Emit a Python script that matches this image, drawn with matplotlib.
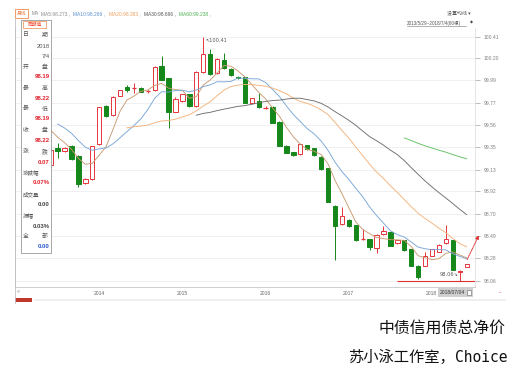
import numpy as np
import pandas as pd
import matplotlib
matplotlib.use('Agg')
import matplotlib.pyplot as plt
from matplotlib.patches import Rectangle

# ---------------- data (monthly candles, Jul-2013 .. Jul-2018) ----------------
start_month = '2013-07'
opens = [99.174, 99.341, 99.309, 99.357, 99.261, 99.004, 99.036, 99.374, 99.742, 99.656,
         99.839, 99.925, 99.910, 99.919, 99.885, 99.896, 100.130, 100.009, 99.687, 99.791,
         99.855, 99.742, 100.067, 100.243, 100.057, 100.185, 100.099, 100.020, 100.019, 99.768,
         99.791, 99.720, 99.736, 99.591, 99.360, 99.296, 99.277, 99.367, 99.335, 99.254,
         99.142, 98.782, 98.606, 98.645, 98.596, 98.455, 98.462, 98.372, 98.507, 98.526,
         98.420, 98.452, 98.365, 98.204, 98.204, 98.298, 98.339, 98.420, 98.452, 98.140,
         98.190]
closes = [99.319, 99.312, 99.335, 99.232, 98.991, 99.036, 99.357, 99.730, 99.646, 99.829,
          99.896, 99.901, 99.915, 99.880, 99.890, 100.121, 99.993, 99.687, 99.807, 99.855,
          99.742, 100.073, 100.243, 100.048, 100.192, 100.105, 100.041, 100.010, 99.774, 99.816,
          99.730, 99.722, 99.582, 99.360, 99.293, 99.270, 99.374, 99.325, 99.270, 99.136,
          98.821, 98.587, 98.683, 98.587, 98.452, 98.460, 98.382, 98.500, 98.536, 98.397,
          98.452, 98.356, 98.204, 98.093, 98.298, 98.362, 98.404, 98.459, 98.163, 98.150,
          98.220]
highs = [99.330, 99.386, 99.345, 99.370, 99.270, 99.045, 99.360, 99.735, 99.750, 99.835,
         99.900, 99.945, 99.960, 99.925, 99.895, 100.125, 100.224, 100.015, 99.832, 99.860,
         99.860, 100.080, 100.410, 100.288, 100.200, 100.250, 100.105, 100.030, 100.025, 99.820,
         99.865, 99.740, 99.740, 99.595, 99.365, 99.300, 99.380, 99.370, 99.340, 99.260,
         99.145, 98.790, 98.773, 98.650, 98.600, 98.555, 98.465, 98.505, 98.587, 98.530,
         98.455, 98.455, 98.370, 98.210, 98.339, 98.365, 98.410, 98.596, 98.455, 98.160,
         98.220]
lows = [99.160, 99.242, 99.300, 99.220, 98.962, 98.995, 99.030, 99.370, 99.640, 99.650,
        99.835, 99.877, 99.870, 99.875, 99.865, 99.890, 99.990, 99.528, 99.680, 99.785,
        99.735, 99.735, 100.060, 100.040, 100.050, 100.100, 100.035, 100.000, 99.770, 99.760,
        99.725, 99.715, 99.578, 99.355, 99.290, 99.265, 99.270, 99.320, 99.265, 99.130,
        98.815, 98.259, 98.600, 98.580, 98.445, 98.450, 98.356, 98.330, 98.500, 98.390,
        98.415, 98.350, 98.200, 98.080, 98.200, 98.295, 98.335, 98.415, 98.160, 98.060,
        98.190]
# closes of the 8 months before the visible range (only feed the moving averages)
pre_closes = [99.72, 99.74, 99.70, 99.67, 99.65, 99.60, 99.55, 99.43]

ma_windows = [5, 10, 20, 30, 60]
ma_shown = ['98.273', '98.266', '98.383', '98.696', '99.238']
ytick_labels = ['98.06', '98.28', '98.49', '98.70', '98.92', '99.13', '99.35',
                '99.56', '99.77', '99.99', '100.20', '100.41']
period_high = 100.41
period_low = 98.06

info_rows = [('日', '期'), '2018', '7/4', ('开', '盘'), '98.19', ('最', '高'), '98.22',
             ('最', '低'), '98.19', ('收', '盘'), '98.22', ('涨', '跌'), '0.07',
             '涨跌幅', '0.07%', '成交量', '0.00', '振幅', '0.03%', ('全', '部'), '0.00']
info_colors = {4: 'r', 6: 'r', 8: 'r', 10: 'r', 12: 'r', 14: 'r', 16: 'k', 18: 'k', 20: 'b'}

title1 = '中债信用债总净价'
title2a = '苏小泳工作室，'
title2b = 'Choice'
range_text = '2013/5/29~2018/7/4(60根)'

# ---------------- styling ----------------
RED = '#e5343b'
GREEN = '#16871a'
MA_COLORS = ['#c99a72', '#78a6d8', '#f3b27c', '#6e6e6e', '#62c062']
LEG_COLORS = ['#8a8a8a', '#5b8fd0', '#f0a060', '#555555', '#4caf50']
LAT = ['Liberation Sans', 'DejaVu Sans', 'Noto Sans CJK SC']
CJK = ['Noto Sans CJK SC', 'DejaVu Sans']

W_PX, H_PX = 512, 373
fig = plt.figure(figsize=(W_PX / 100, H_PX / 100), dpi=100, facecolor='white')

def fx(px):
    return px / W_PX

def fy(py):
    return 1 - py / H_PX

# main price axes (pixel box x 15..475, y 28..287)
ax = fig.add_axes([fx(15), fy(287), fx(475) - fx(15), fy(28) - fy(287)])
n = len(closes)
xs = np.arange(n)
ax.set_xlim(-5.15, 61.2)
ax.set_ylim(97.9993, 100.4935)

Wb = 0.62
for i in range(n):
    o, c, h, l = opens[i], closes[i], highs[i], lows[i]
    up = c >= o
    col = RED if up else GREEN
    ax.vlines(i, l, h, color=col, lw=0.7, zorder=2)
    lo_, hi_ = min(o, c), max(o, c)
    if hi_ - lo_ < 0.008:
        ax.hlines((o + c) / 2, i - Wb / 2, i + Wb / 2, color=col, lw=0.9, zorder=3)
    else:
        ax.add_patch(Rectangle((i - Wb / 2, lo_), Wb, hi_ - lo_,
                               facecolor='white' if up else col,
                               edgecolor=col, lw=0.7, zorder=3))

allc = pd.Series(pre_closes + closes)
off = len(pre_closes)
for w, col in zip(ma_windows, MA_COLORS):
    ma = allc.rolling(w).mean().to_numpy()[off:]
    ax.plot(xs, ma, color=col, lw=0.65, zorder=4)

# high / low markers
i_hi = int(np.argmax(highs))
ax.text(i_hi + 0.25, period_high - 0.04, '\u2196' + f'{period_high:.2f}', fontsize=3.6,
        family=['DejaVu Sans'], color='#555555', va='center', ha='left', zorder=6)
i_lo = int(np.argmin(lows))
ax.hlines(period_low, 50, 61.2, color='#e03030', lw=0.8, zorder=5)
ax.text(i_lo - 2.9, period_low + 0.055, f'{period_low:.2f}' + '\u2198', fontsize=3.6,
        family=['DejaVu Sans'], color='#555555', va='center', ha='left', zorder=6)
ax.annotate('', xy=(61.92, 98.52), xytext=(59.9, 98.24),
            arrowprops=dict(arrowstyle='-|>', color='#e03030', lw=0.7,
                            linestyle=(0, (1, 1)), mutation_scale=5),
            annotation_clip=False, zorder=6)

# axes styling
ax.set_yticks([float(s) for s in ytick_labels])
ax.set_yticklabels(ytick_labels, family=LAT, fontsize=3.6, color='#808080')
ax.yaxis.tick_right()
ax.tick_params(axis='y', length=3.5, width=0.6, color='#b0b0b0', pad=3)
ax.set_xticks([])
ax.grid(axis='y', color='#eeeeee', lw=0.6, zorder=0)
ax.set_axisbelow(True)
ax.spines['top'].set_visible(False)
ax.spines['left'].set_color('#c0c0c0')
ax.spines['bottom'].set_color('#c8c8c8')
ax.spines['right'].set_color('#e0e0e0')
for s in ['left', 'bottom', 'right']:
    ax.spines[s].set_linewidth(0.6)

months = pd.period_range(start_month, periods=n, freq='M')
for i, m in enumerate(months):
    if m.month == 1:
        ax.text(i + 0.15, -0.0235, str(m.year), transform=ax.get_xaxis_transform(),
                fontsize=3.6, family=LAT, color='#666666', ha='left', va='center',
                clip_on=False)

# ---------------- overlay (chrome in pixel coordinates) ----------------
ov = fig.add_axes([0, 0, 1, 1], zorder=5)
ov.set_xlim(0, W_PX)
ov.set_ylim(H_PX, 0)
ov.axis('off')
ov.patch.set_alpha(0)

# left frame line
ov.plot([15, 15], [18, 303], color='#c0c0c0', lw=0.6)

# top legend row
ov.add_patch(Rectangle((15, 9), 13, 8.5, facecolor='white', edgecolor='#f08a4b', lw=0.6))
ov.text(21.5, 13.3, '月线', fontsize=3.4, family=CJK, color='#f07030', ha='center', va='center')
ov.text(31.5, 13.3, 'MA', fontsize=3.5, family=LAT, color='#888888', ha='left', va='center')
leg_x = [41, 73, 109, 144, 179]
for k, (w, v, col) in enumerate(zip(ma_windows, ma_shown, LEG_COLORS)):
    ov.text(leg_x[k], 13.3, f'MA{w}:{v} ,', fontsize=3.5, family=LAT, color=col,
            ha='left', va='center')

# top-right controls
ov.text(447, 13, '设置均线 ▾', fontsize=3.6, family=CJK, color='#555555', ha='left', va='center')
ov.text(407, 23, range_text, fontsize=3.3, family=LAT, color='#555555', ha='left', va='center')
ov.plot([407, 466], [26.3, 26.3], color='#777777', lw=0.4)
ov.text(470, 23, '\u25c6', fontsize=2.8, family=['DejaVu Sans'], color='#444444',
        ha='left', va='center')

# info panel
ov.add_patch(Rectangle((21, 20), 29.5, 233, facecolor='white', edgecolor='#9a9a9a', lw=0.6))
ov.add_patch(Rectangle((23, 21), 23, 7, facecolor='white', edgecolor='#f08a4b', lw=0.5))
ov.text(34.5, 24.6, '同期值', fontsize=3.4, family=CJK, color='#f05030', ha='center', va='center')
row_y = [35, 46, 56, 67, 77, 88, 99, 109, 119, 130, 141, 151, 162, 172, 183, 194, 205, 215, 226, 236, 246]
val_col = {'r': '#e3202a', 'k': '#444444', 'b': '#2a55cc'}
for k, (row, yy) in enumerate(zip(info_rows, row_y)):
    if isinstance(row, tuple):
        ov.text(23, yy, row[0], fontsize=4.2, family=CJK, color='#555555', ha='left', va='center')
        ov.text(42, yy, row[1], fontsize=4.2, family=CJK, color='#555555', ha='left', va='center')
    elif k in info_colors:
        ov.text(49.5, yy, row, fontsize=4.3, family=LAT, weight='bold',
                color=val_col[info_colors[k]], ha='right', va='center')
    elif any('\u4e00' <= ch <= '\u9fff' for ch in row):
        ov.text(22.5, yy, row, fontsize=4.0, family=CJK, color='#555555', ha='left', va='center')
    else:
        ov.text(49.5, yy, row, fontsize=4.2, family=LAT, color='#555555', ha='right', va='center')

# bottom navigation strip
ov.text(17, 292, '\u00ab', fontsize=3.6, family=['DejaVu Sans'], color='#777777', ha='left', va='center')
ov.text(500, 292.5, '\u2013', fontsize=3.6, family=['DejaVu Sans'], color='#e03030', ha='center', va='center')
ov.add_patch(Rectangle((438, 288), 35, 9, facecolor='#cfcfcf', edgecolor='none'))
ov.text(440, 292.5, '2018/07/04', fontsize=3.6, family=LAT, color='#333333', ha='left', va='center')
ov.add_patch(Rectangle((467, 289.8), 4, 5, facecolor='white', edgecolor='#666666', lw=0.4))
ov.add_patch(Rectangle((15, 297.5), 17, 4, facecolor='#c0392b', edgecolor='none'))
ov.plot([35, 505], [299.5, 299.5], color='#ececec', lw=1.2)

# captions
ov.text(505, 328, title1, fontsize=11.4, family=CJK, color='#111111', ha='right', va='center')
ov.text(455, 357, title2a, fontsize=11, family=CJK, color='#111111', ha='right', va='center')
ov.text(455, 357, title2b, fontsize=10.5, family=['DejaVu Sans Mono'], color='#111111',
        ha='left', va='center')

fig.savefig('out.png', dpi=100, facecolor='white')
